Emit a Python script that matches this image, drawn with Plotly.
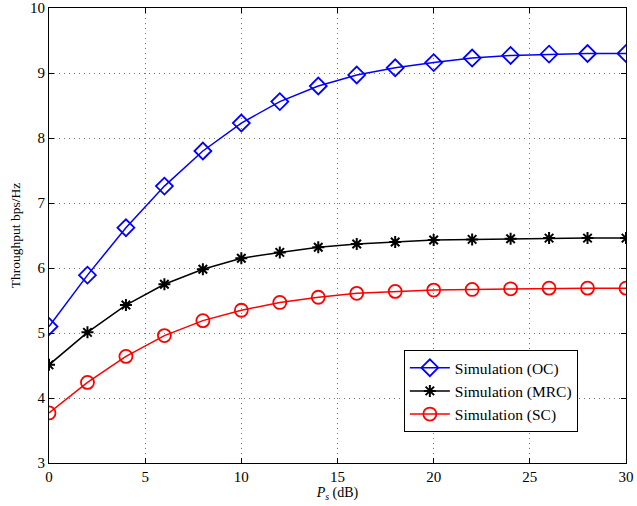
import plotly.graph_objects as go

ps_db = [0, 2, 4, 6, 8, 10, 12, 14, 16, 18, 20, 22, 24, 26, 28, 30]
oc = [5.10, 5.89, 6.62, 7.26, 7.80, 8.23, 8.56, 8.80, 8.97, 9.08, 9.16, 9.23, 9.27, 9.29, 9.30, 9.30]
mrc = [4.51, 5.01, 5.43, 5.75, 5.98, 6.15, 6.24, 6.32, 6.37, 6.40, 6.43, 6.44, 6.45, 6.46, 6.46, 6.46]
sc = [3.77, 4.24, 4.64, 4.96, 5.19, 5.35, 5.47, 5.55, 5.61, 5.64, 5.66, 5.67, 5.68, 5.69, 5.69, 5.69]

x_ticks = [0, 5, 10, 15, 20, 25, 30]
y_ticks = [3, 4, 5, 6, 7, 8, 9, 10]

FONT = "Liberation Serif, Times New Roman, serif"

fig = go.Figure()
fig.add_trace(go.Scatter(x=ps_db, y=oc, mode="lines+markers", name="Simulation (OC)",
                         line=dict(color="#0000ff", width=1.5),
                         marker=dict(symbol="diamond-open", size=13, color="#0000ff",
                                     line=dict(width=1.8, color="#0000ff"))))
fig.add_trace(go.Scatter(x=ps_db, y=mrc, mode="lines+markers", name="Simulation (MRC)",
                         line=dict(color="#000000", width=1.5),
                         marker=dict(symbol="asterisk-open", size=10, color="#000000",
                                     line=dict(width=2, color="#000000"))))
fig.add_trace(go.Scatter(x=ps_db, y=sc, mode="lines+markers", name="Simulation (SC)",
                         line=dict(color="#ff0000", width=1.5),
                         marker=dict(symbol="circle-open", size=13, color="#ff0000",
                                     line=dict(width=1.8, color="#ff0000"))))

axis_common = dict(
    showline=True, linecolor="black", linewidth=1.2, mirror="ticks",
    ticks="inside", ticklen=5, tickcolor="black",
    showgrid=True, gridcolor="#777777", griddash="1px,4px", gridwidth=1,
    zeroline=False, automargin=False,
    tickfont=dict(family=FONT, size=15, color="black"),
)

fig.update_xaxes(range=[0, 30], tickvals=x_ticks,
                 title=dict(text="<i>P</i><sub><i>s</i></sub> (dB)", standoff=2,
                            font=dict(family=FONT, size=14, color="black")),
                 **axis_common)
fig.update_yaxes(range=[3, 10], tickvals=y_ticks,
                 title=dict(text="Throughput bps/Hz", standoff=6,
                            font=dict(family=FONT, size=13.5, color="black")),
                 **axis_common)

fig.update_layout(
    width=637, height=506,
    margin=dict(l=49, r=11, t=8, b=43),
    plot_bgcolor="white", paper_bgcolor="white",
    font=dict(family=FONT, size=14, color="black"),
    legend=dict(x=0.615, y=0.248, xanchor="left", yanchor="top",
                bordercolor="black", borderwidth=1, bgcolor="white",
                font=dict(family=FONT, size=15.5, color="black"),
                itemwidth=40, tracegroupgap=0),
    showlegend=True,
)

fig.write_html("out.html")
